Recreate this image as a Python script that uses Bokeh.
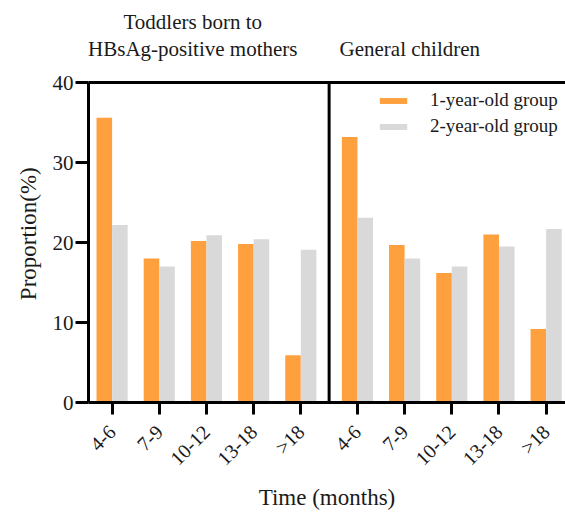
import numpy as np
from bokeh.plotting import figure
from bokeh.models import (Span, FixedTicker, LinearAxis, Range1d, Legend,
                          LegendItem, ColumnDataSource)
from bokeh.embed import file_html
from bokeh.resources import INLINE

# ---- data ----
categories = ["4-6", "7-9", "10-12", "13-18", ">18"]
toddlers_1yr = [35.6, 18.0, 20.2, 19.8, 5.9]
toddlers_2yr = [22.2, 17.0, 20.9, 20.4, 19.1]
general_1yr = [33.2, 19.7, 16.2, 21.0, 9.2]
general_2yr = [23.1, 18.0, 17.0, 19.5, 21.7]
title_line1 = ["Toddlers born to"]
title_line2 = ["HBsAg-positive mothers", "General children"]
series_names = ["1-year-old group", "2-year-old group"]
y_ticks = [0, 10, 20, 30, 40]
x_title = "Time (months)"
y_title = "Proportion(%)"

FONT = "Liberation Serif"
ORANGE = "#FFA03F"
GREY = "#D9D9D9"
TXT = "#1a1a1a"

gap = 1.2
left_pos = np.arange(len(categories), dtype=float)
right_pos = left_pos + len(categories) - 1 + gap
bw = 0.33
divider = (left_pos[-1] + right_pos[0]) / 2

p = figure(width=565, height=513, x_range=Range1d(-0.5, 9.61), y_range=Range1d(0, 40),
           output_backend="svg", toolbar_location=None,
           min_border_left=87, min_border_right=0, min_border_top=82, min_border_bottom=111)
p.xgrid.visible = False
p.ygrid.visible = False
p.outline_line_color = None
p.background_fill_color = "white"

src_l = ColumnDataSource(dict(x1=left_pos - bw / 2, x2=left_pos + bw / 2,
                              a=toddlers_1yr, b=toddlers_2yr))
src_r = ColumnDataSource(dict(x1=right_pos - bw / 2, x2=right_pos + bw / 2,
                              a=general_1yr, b=general_2yr))
r1 = p.vbar(x="x1", top="a", width=bw, source=src_l, fill_color=ORANGE, line_color=None)
r2 = p.vbar(x="x2", top="b", width=bw, source=src_l, fill_color=GREY, line_color=None)
r3 = p.vbar(x="x1", top="a", width=bw, source=src_r, fill_color=ORANGE, line_color=None)
r4 = p.vbar(x="x2", top="b", width=bw, source=src_r, fill_color=GREY, line_color=None)

# main axes
ticks = list(left_pos) + list(right_pos)
p.xaxis.ticker = FixedTicker(ticks=ticks)
p.xaxis.major_label_overrides = {float(t): categories[i % len(categories)] for i, t in enumerate(ticks)}
p.xaxis.major_label_orientation = np.pi / 4
p.yaxis.ticker = FixedTicker(ticks=y_ticks)
for ax in (p.xaxis[0], p.yaxis[0]):
    ax.axis_line_width = 3
    ax.axis_line_color = "black"
    ax.major_tick_line_width = 3
    ax.major_tick_line_color = "black"
    ax.major_tick_in = 0
    ax.minor_tick_out = 0
    ax.minor_tick_in = 0
    ax.major_label_text_font = FONT
    ax.major_label_text_color = TXT
p.yaxis.major_label_text_font_size = "21px"
p.xaxis.major_label_text_font_size = "20px"
p.yaxis.major_tick_out = 13
p.yaxis.major_label_standoff = 2
p.xaxis.major_tick_out = 12
p.xaxis.major_label_standoff = 14
p.xaxis.axis_label = x_title
p.xaxis.axis_label_text_font = FONT
p.xaxis.axis_label_text_font_size = "23px"
p.xaxis.axis_label_text_font_style = "normal"
p.xaxis.axis_label_text_color = TXT
p.xaxis.axis_label_standoff = 5


def label_axis(ticks_, labels, size="21px", **kw):
    return LinearAxis(ticker=FixedTicker(ticks=ticks_),
                      major_label_overrides={float(t): l for t, l in zip(ticks_, labels)},
                      major_tick_out=0, major_tick_in=0, minor_tick_out=0, minor_tick_in=0,
                      major_tick_line_color=None, minor_tick_line_color=None,
                      major_label_text_font=FONT, major_label_text_font_size=size,
                      major_label_text_color=TXT, **kw)


# top frame line + panel titles (second line), then first line above it
title_x = [1.71, 6.31]
top_axis = label_axis(title_x, title_line2, axis_line_width=3, axis_line_color="black",
                      major_label_standoff=22)
p.add_layout(top_axis, "above")
top_axis2 = label_axis(title_x[:1], title_line1, axis_line_color=None, major_label_standoff=0)
p.add_layout(top_axis2, "above")

# y title (anchored at its top end)
yt_axis = label_axis([29.4], [y_title], size="23px", axis_line_color=None,
                     major_label_standoff=21, major_label_orientation=np.pi / 2)
p.add_layout(yt_axis, "left")

p.add_layout(Span(location=divider, dimension="height", line_color="black", line_width=3))

legend = Legend(items=[LegendItem(label=series_names[0], renderers=[r1, r3]),
                       LegendItem(label=series_names[1], renderers=[r2, r4])],
                location=(288, 265), padding=0, margin=0, spacing=4,
                glyph_width=34, glyph_height=7, label_standoff=20, label_height=20,
                label_text_font=FONT, label_text_font_size="19px", label_text_color=TXT,
                border_line_color=None, background_fill_alpha=0)
p.add_layout(legend)

open("out.html", "w").write(file_html(p, INLINE))
